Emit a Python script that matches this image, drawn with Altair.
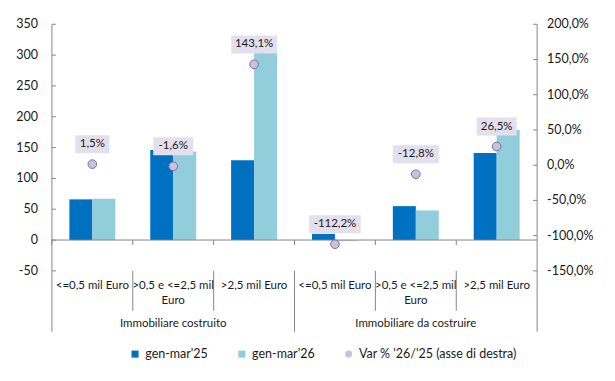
import altair as alt
import pandas as pd

# ---------------- data ----------------
keys = ["c1", "c2", "c3", "c4", "c5", "c6"]
cat_labels = [
    "<=0,5 mil Euro",
    ">0,5 e <=2,5 mil\nEuro",
    ">2,5 mil Euro",
    "<=0,5 mil Euro",
    ">0,5 e <=2,5 mil\nEuro",
    ">2,5 mil Euro",
]
group_names = ["Immobiliare costruito", "Immobiliare da costruire"]
group_mid = ["c2", "c5"]
group_left_edges = ["c1", "c4"]
inner_edges = ["c2", "c3", "c5", "c6"]
series = ["gen-mar'25", "gen-mar'26", "Var % '26/'25 (asse di destra)"]
v25 = [66, 146, 129.5, 10, 55, 141]
v26 = [67, 143.5, 315, -1.2, 48, 178.5]
pct = [1.5, -1.6, 143.1, -112.2, -12.8, 26.5]
left_ticks = [-50, 0, 50, 100, 150, 200, 250, 300, 350]
right_ticks = [-150, -100, -50, 0, 50, 100, 150, 200]

# ---------------- style ----------------
W, H = 486, 247
FONT = "Lato"
GRAY = "#868686"
TXT = "#1a1a1a"
C_DARK = "#0070C0"
C_LIGHT = "#92CDDC"
C_PT = "#CCC1DA"
C_PT_STROKE = "#7F6A9F"
C_BOX = "#E4DFEC"

bars_df = pd.DataFrame({
    "key": keys * 2,
    "series": [series[0]] * len(keys) + [series[1]] * len(keys),
    "value": v25 + v26,
})
pct_df = pd.DataFrame({"key": keys, "series": [series[2]] * len(keys), "pct": pct})
cat_df = pd.DataFrame({"key": keys, "label": cat_labels})


def it_pct(field):
    return (f"(datum.{field} < 0 ? '-' : '') + "
            f"replace(format(abs(datum.{field}), '.1f'), '.', ',') + '%'")


xscale = alt.Scale(domain=keys, paddingInner=0, paddingOuter=0)
hidden_axis = dict(labels=False, ticks=False, domain=False, grid=False, title=None)


def xenc(bp=None, axis=None):
    kw = {}
    if bp is not None:
        kw["bandPosition"] = bp
    return alt.X("key:N", sort=keys, scale=xscale, title=None, axis=axis, **kw)


yL_scale = alt.Scale(domain=[left_ticks[0], left_ticks[-1]], nice=False, zero=False)
yR_scale = alt.Scale(domain=[right_ticks[0], right_ticks[-1]], nice=False, zero=False)


def yL(field="value", axis=None):
    return alt.Y(f"{field}:Q", scale=yL_scale, title=None, axis=axis)


def yR(field="pct", axis=None):
    return alt.Y(f"{field}:Q", scale=yR_scale, title=None, axis=axis)


legend_kw = dict(
    orient="none", legendX=77, legendY=324, direction="horizontal", title=None,
    labelFont=FONT, labelFontSize=12.5, labelColor=TXT, symbolSize=50,
    columnPadding=27, labelOffset=4, padding=0, symbolStrokeWidth=0,
)

color = alt.Color(
    "series:N",
    scale=alt.Scale(domain=series, range=[C_DARK, C_LIGHT, C_PT]),
    legend=alt.Legend(**legend_kw),
)

# ---------------- left (absolute values) ----------------
bars = alt.Chart(bars_df).mark_bar().encode(
    x=xenc(axis=alt.Axis(**hidden_axis)),
    xOffset=alt.XOffset("series:N", sort=series[:2],
                        scale=alt.Scale(paddingInner=0, paddingOuter=0.76)),
    y=yL(axis=alt.Axis(**hidden_axis)),
    color=color,
)

zero_rule = alt.Chart(pd.DataFrame({"value": [0]})).mark_rule(color=GRAY).encode(y=yL())

zero_ticks = alt.Chart(pd.DataFrame({"key": keys})).mark_rule(color=GRAY).encode(
    x=xenc(bp=0), y=alt.datum(0), y2=alt.datum(-8),
)

left_domain = alt.Chart(
    pd.DataFrame({"value": [left_ticks[-1]], "lo": [left_ticks[0]]})
).mark_rule(color=GRAY).encode(
    x=alt.value(0), y=yL(), y2=alt.Y2("lo:Q")
)

ltick_df = pd.DataFrame({"value": left_ticks})
left_tick_marks = alt.Chart(ltick_df).mark_rule(color=GRAY).encode(
    y=yL(), x=alt.value(0), x2=alt.value(4),
)
left_tick_labels = alt.Chart(ltick_df).transform_calculate(
    t="'' + datum.value"
).mark_text(align="right", baseline="middle", font=FONT, fontSize=12.5, color=TXT).encode(
    y=yL(), x=alt.value(-14), text="t:N",
)

sep_rules = alt.Chart(pd.DataFrame({"key": inner_edges})).mark_rule(color=GRAY).encode(
    x=xenc(bp=0), y=alt.value(H), y2=alt.value(H + 40)
)
group_rules_l = alt.Chart(pd.DataFrame({"key": group_left_edges})).mark_rule(color=GRAY).encode(
    x=xenc(bp=0), y=alt.value(H), y2=alt.value(H + 61)
)
group_rules_r = alt.Chart(pd.DataFrame({"key": [keys[-1]]})).mark_rule(color=GRAY).encode(
    x=xenc(bp=1), y=alt.value(H), y2=alt.value(H + 61)
)

cat_text = alt.Chart(cat_df).mark_text(
    baseline="top", lineBreak="\n", lineHeight=15, font=FONT, fontSize=11.5, color=TXT
).encode(x=xenc(), y=alt.value(H + 9), text="label:N")

group_text = alt.Chart(pd.DataFrame({"key": group_mid, "g": group_names})).mark_text(
    baseline="middle", font=FONT, fontSize=11.5, color=TXT
).encode(x=xenc(), y=alt.value(H + 53), text="g:N")

left = alt.layer(bars, zero_rule, zero_ticks, left_domain,
                 left_tick_marks, left_tick_labels, sep_rules,
                 group_rules_l, group_rules_r, cat_text, group_text)

# ---------------- right (percent change) ----------------
base_r = alt.Chart(pct_df).transform_calculate(
    lbl=it_pct("pct"),
).transform_calculate(
    bw="5.8 * length(datum.lbl) + 11",
).transform_calculate(
    k="18 / datum.bw",
    sz="datum.bw * datum.bw",
).transform_calculate(
    path="'M-1,' + (-datum.k) + 'L1,' + (-datum.k) + 'L1,' + datum.k + 'L-1,' + datum.k + 'Z'"
)

boxes = base_r.mark_point(filled=True, opacity=1, fill=C_BOX, strokeWidth=0, yOffset=-20).encode(
    x=xenc(), y=yR(),
    shape=alt.Shape("path:N", scale=None, legend=None),
    size=alt.Size("sz:Q", scale=None, legend=None),
)

texts = base_r.mark_text(dy=-20, baseline="middle", font=FONT, fontSize=11.5, color=TXT).encode(
    x=xenc(), y=yR(), text="lbl:N",
)

points = alt.Chart(pct_df).mark_point(filled=True, size=75, opacity=1,
                                      stroke=C_PT_STROKE, strokeWidth=1).encode(
    x=xenc(), y=yR(axis=alt.Axis(orient="right", **hidden_axis)),
    color=color,
    shape=alt.Shape("series:N",
                    scale=alt.Scale(domain=series, range=["square", "square", "circle"]),
                    legend=alt.Legend(**legend_kw)),
)

right_domain = alt.Chart(
    pd.DataFrame({"pct": [right_ticks[-1]], "lo": [right_ticks[0]]})
).mark_rule(color=GRAY).encode(
    x=alt.value(W), y=yR(), y2=alt.Y2("lo:Q")
)

rtick_df = pd.DataFrame({"pct": right_ticks})
right_tick_marks = alt.Chart(rtick_df).mark_rule(color=GRAY).encode(
    y=yR(), x=alt.value(W - 4), x2=alt.value(W),
)
right_tick_labels = alt.Chart(rtick_df).transform_calculate(
    t=it_pct("pct")
).mark_text(align="left", baseline="middle", font=FONT, fontSize=12.5, color=TXT).encode(
    y=yR(), x=alt.value(W + 10), text="t:N",
)

right = alt.layer(boxes, texts, points, right_domain, right_tick_marks, right_tick_labels)

chart = alt.layer(left, right).resolve_scale(y="independent").properties(
    width=W, height=H,
    autosize=alt.AutoSizeParams(type="none"),
    padding={"left": 44, "top": 16, "right": 70, "bottom": 100},
    background="white",
).configure_view(stroke=None)

chart.save("out.html", embed_options={"renderer": "svg", "actions": False})
